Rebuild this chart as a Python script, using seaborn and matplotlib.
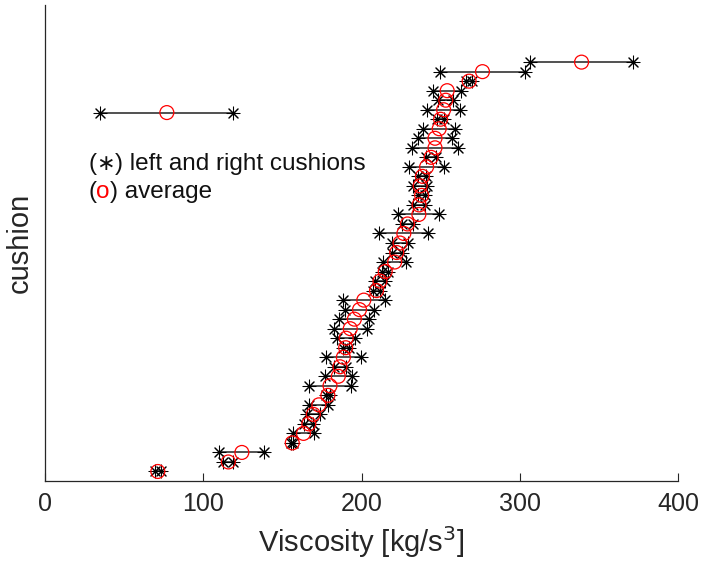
import numpy as np
import pandas as pd
import matplotlib
matplotlib.use("Agg")
import matplotlib.pyplot as plt
import seaborn as sns
from matplotlib.offsetbox import TextArea, HPacker, VPacker, AnchoredOffsetbox

# ---- data ----
cushion = list(range(1, 45))
left = [69.5, 112.7, 110.2, 155.5, 156.5, 163.9, 165.3, 167.0, 177.5, 167.0,
        176.9, 182.8, 177.4, 188.0, 184.7, 182.5, 186.0, 189.6, 188.1, 207.0,
        208.5, 213.0, 213.8, 219.1, 219.1, 211.3, 225.4, 223.3, 232.7, 235.9,
        232.7, 236.0, 230.2, 241.0, 231.7, 235.9, 239.1, 248.0, 241.6, 248.5,
        245.4, 266.0, 249.6, 306.5]
right = [73.1, 119.0, 138.6, 157.0, 170.2, 169.5, 173.8, 179.1, 180.0, 193.2,
         193.8, 190.0, 199.7, 192.0, 195.9, 203.3, 205.0, 207.9, 214.8, 212.0,
         214.8, 217.0, 228.1, 225.4, 229.6, 242.2, 232.7, 249.2, 240.1, 240.1,
         241.5, 241.0, 252.1, 247.0, 261.2, 257.0, 259.1, 252.0, 262.2, 258.0,
         262.9, 270.0, 303.3, 371.6]
legend_x = [35.0, 119.0]
legend_y = 38.7
xticks = [0, 100, 200, 300, 400]

df = pd.DataFrame({"cushion": cushion, "left": left, "right": right})
df["average"] = (df["left"] + df["right"]) / 2
long = df.melt(id_vars="cushion", value_vars=["left", "right"], value_name="v")

sns.set_style("white")
plt.rcParams["font.family"] = ["Liberation Sans", "DejaVu Sans"]
plt.rcParams["mathtext.fontset"] = "custom"
plt.rcParams["mathtext.rm"] = "Liberation Sans"
plt.rcParams["mathtext.it"] = "Liberation Sans"

fig = plt.figure(figsize=(7.04, 5.74), dpi=100)
ax = fig.add_axes([45/704, 1-481/574, (678-45)/704, (481-5)/574])

dark = "#262626"
# connecting lines
ax.hlines(df["cushion"], df["left"], df["right"], color="#333333", lw=1.2, zorder=1)
ax.hlines([legend_y], [legend_x[0]], [legend_x[1]], color="#333333", lw=1.2, zorder=1)

ast = (8, 2, 0)
sns.scatterplot(data=long, x="v", y="cushion", marker=ast, s=85, color="black",
                linewidth=0.75, ax=ax, zorder=2, legend=False)
sns.scatterplot(x=legend_x, y=[legend_y]*2, marker=ast, s=85, color="black",
                linewidth=0.75, ax=ax, zorder=2, legend=False)
sns.scatterplot(data=df, x="average", y="cushion", marker="o", s=100,
                facecolor="none", edgecolor="red", linewidth=0.9, ax=ax, zorder=3, legend=False)
sns.scatterplot(x=[np.mean(legend_x)], y=[legend_y], marker="o", s=100,
                facecolor="none", edgecolor="red", linewidth=0.9, ax=ax, zorder=3, legend=False)

ax.set_xlim(0, 400)
ax.set_ylim(0, 50)
ax.set_xticks(xticks)
ax.set_xticklabels([str(t) for t in xticks])
ax.set_yticks([])
ax.tick_params(axis="x", direction="in", length=6, width=0.8, colors=dark,
               labelsize=18, pad=8, top=False, bottom=True)
for s in ["top", "right"]:
    ax.spines[s].set_visible(False)
for s in ["left", "bottom"]:
    ax.spines[s].set_color(dark)
    ax.spines[s].set_linewidth(0.9)
ax.set_xlabel("Viscosity [kg/s$^{\\mathsf{3}}$]", fontsize=21, color=dark, labelpad=6)
ax.set_ylabel("cushion", fontsize=21, color=dark, labelpad=8)

tp = dict(fontsize=17.5, color="#111111")
line1 = HPacker(children=[TextArea("(", textprops=tp),
                          TextArea("\u2217", textprops=dict(tp, family=["DejaVu Sans"], fontsize=16)),
                          TextArea(") left and right cushions", textprops=tp)],
                sep=0, pad=0, align="baseline")
line2 = HPacker(children=[TextArea("(", textprops=tp),
                          TextArea("o", textprops=dict(tp, color="red")),
                          TextArea(") average", textprops=tp)],
                sep=0, pad=0, align="baseline")
box = VPacker(children=[line1, line2], sep=4, pad=0, align="left")
anch = AnchoredOffsetbox(loc="upper left", child=box, pad=0, borderpad=0, frameon=False,
                         bbox_to_anchor=(88/704, 1-153/574), bbox_transform=fig.transFigure)
ax.add_artist(anch)

fig.savefig("out.png", dpi=100)
